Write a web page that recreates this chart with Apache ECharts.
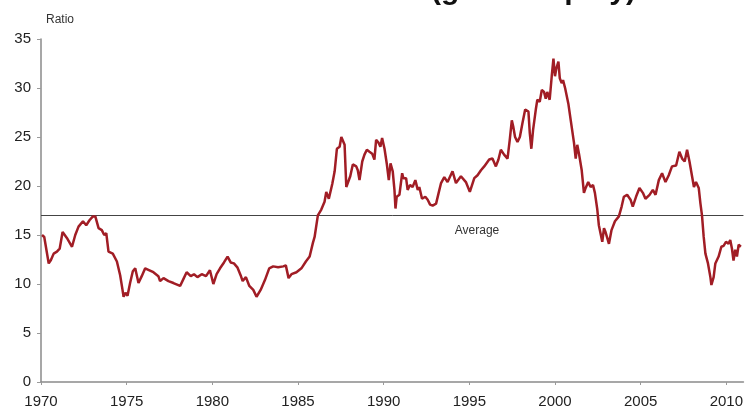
<!DOCTYPE html>
<html>
<head>
<meta charset="utf-8">
<script src="https://cdn.jsdelivr.net/npm/echarts@6/dist/echarts.min.js"></script>
<style>
  html, body { margin: 0; padding: 0; background: #fff; }
  #chart { width: 746px; height: 412px; }
</style>
</head>
<body>
<div id="chart"></div>
<script>
// Global equity valuation ratio, 1970–2010 (decimal years)
const years = [
  1970.06, 1970.19, 1970.45, 1970.58, 1970.74, 1970.93, 1971.09, 1971.26, 1971.51, 1971.81,
  1972.00, 1972.19, 1972.45, 1972.64, 1972.83, 1973.03, 1973.17, 1973.36, 1973.55, 1973.69,
  1973.81, 1973.94, 1974.19, 1974.43, 1974.62, 1974.74, 1974.82, 1974.93, 1975.05, 1975.20,
  1975.36, 1975.50, 1975.69, 1975.88, 1976.08, 1976.33, 1976.56, 1976.85, 1976.95, 1977.15,
  1977.44, 1977.73, 1978.12, 1978.31, 1978.50, 1978.74, 1978.93, 1979.13, 1979.38, 1979.63,
  1979.86, 1980.06, 1980.25, 1980.45, 1980.68, 1980.89, 1981.07, 1981.26, 1981.46, 1981.65,
  1981.77, 1981.96, 1982.16, 1982.39, 1982.58, 1982.82, 1983.07, 1983.32, 1983.55, 1983.84,
  1984.14, 1984.29, 1984.45, 1984.62, 1984.91, 1985.20, 1985.46, 1985.68, 1985.87, 1985.97,
  1986.16, 1986.36, 1986.55, 1986.65, 1986.80, 1987.00, 1987.14, 1987.27, 1987.43, 1987.53,
  1987.62, 1987.72, 1987.82, 1987.91, 1988.05, 1988.20, 1988.40, 1988.49, 1988.59, 1988.75,
  1988.88, 1989.02, 1989.17, 1989.33, 1989.46, 1989.56, 1989.71, 1989.81, 1989.91, 1990.05,
  1990.18, 1990.30, 1990.40, 1990.53, 1990.63, 1990.69, 1990.76, 1990.92, 1991.08, 1991.15,
  1991.31, 1991.40, 1991.54, 1991.69, 1991.85, 1991.99, 1992.08, 1992.24, 1992.43, 1992.57,
  1992.71, 1992.86, 1993.06, 1993.21, 1993.35, 1993.54, 1993.73, 1994.02, 1994.22, 1994.51,
  1994.80, 1995.03, 1995.29, 1995.48, 1995.68, 1995.87, 1996.16, 1996.35, 1996.55, 1996.70,
  1996.84, 1997.03, 1997.23, 1997.36, 1997.48, 1997.56, 1997.67, 1997.81, 1997.95, 1998.10,
  1998.26, 1998.45, 1998.53, 1998.62, 1998.72, 1998.88, 1998.97, 1999.11, 1999.23, 1999.36,
  1999.46, 1999.55, 1999.69, 1999.81, 1999.91, 2000.00, 2000.08, 2000.20, 2000.28, 2000.39,
  2000.47, 2000.59, 2000.66, 2000.78, 2000.92, 2001.01, 2001.11, 2001.21, 2001.30, 2001.40,
  2001.56, 2001.69, 2001.79, 2001.94, 2002.08, 2002.22, 2002.33, 2002.47, 2002.56, 2002.66,
  2002.76, 2002.86, 2002.95, 2003.05, 2003.15, 2003.30, 2003.50, 2003.73, 2003.89, 2004.02,
  2004.21, 2004.41, 2004.54, 2004.73, 2004.93, 2005.13, 2005.28, 2005.52, 2005.71, 2005.87,
  2006.06, 2006.25, 2006.45, 2006.64, 2006.83, 2007.07, 2007.26, 2007.42, 2007.57, 2007.71,
  2007.85, 2008.00, 2008.11, 2008.23, 2008.39, 2008.49, 2008.58, 2008.68, 2008.78, 2008.93,
  2009.07, 2009.13, 2009.26, 2009.36, 2009.55, 2009.71, 2009.84, 2009.98, 2010.13, 2010.23,
  2010.33, 2010.42, 2010.52, 2010.62, 2010.72, 2010.85
];

const ratios = [
  15.0, 14.8, 12.1, 12.45, 13.1, 13.3, 13.6, 15.3, 14.7, 13.8,
  15.0, 15.85, 16.4, 16.0, 16.5, 16.9, 16.9, 15.7, 15.5, 15.0,
  15.2, 13.3, 13.1, 12.3, 10.9, 9.6, 8.7, 9.1, 8.8, 10.1,
  11.3, 11.6, 10.1, 10.8, 11.6, 11.4, 11.2, 10.8, 10.3, 10.6,
  10.3, 10.1, 9.8, 10.5, 11.2, 10.8, 11.0, 10.7, 11.0, 10.8,
  11.4, 10.0, 11.0, 11.6, 12.2, 12.8, 12.2, 12.1, 11.7, 10.9,
  10.3, 10.7, 9.8, 9.4, 8.7, 9.4, 10.4, 11.6, 11.8, 11.7,
  11.8, 11.9, 10.6, 11.0, 11.2, 11.6, 12.3, 12.8, 14.2, 14.8,
  17.0, 17.6, 18.4, 19.4, 18.7, 20.2, 21.5, 23.8, 24.0, 25.0,
  25.2, 24.2, 19.9, 19.8, 21.0, 22.2, 22.0, 21.6, 20.6, 22.5,
  23.2, 23.7, 23.5, 23.3, 22.7, 24.7, 24.4, 24.0, 24.9, 23.8,
  22.3, 20.6, 22.3, 21.5, 19.6, 17.7, 18.9, 19.1, 21.3, 20.8,
  20.8, 19.6, 20.1, 19.9, 20.6, 19.6, 19.9, 18.7, 18.9, 18.6,
  18.1, 18.0, 18.2, 19.3, 20.3, 20.9, 20.4, 21.5, 20.3, 21.0,
  20.4, 19.4, 20.8, 21.1, 21.6, 22.0, 22.7, 22.8, 22.0, 22.7,
  23.7, 23.2, 22.8, 24.7, 26.7, 26.1, 25.0, 24.5, 25.0, 26.4,
  27.8, 27.6, 25.4, 23.8, 25.7, 27.8, 28.8, 28.6, 29.8, 29.6,
  28.9, 29.6, 28.8, 31.2, 33.0, 31.2, 32.0, 32.7, 31.0, 30.5,
  30.8, 30.0, 30.2, 28.4, 26.7, 26.9, 24.4, 22.8, 24.2, 23.3,
  21.6, 19.3, 19.8, 20.4, 19.9, 20.1, 19.3, 17.6, 16.0, 16.2,
  14.3, 15.7, 15.3, 14.7, 14.1, 15.5, 16.4, 16.9, 17.9, 18.9,
  19.1, 18.6, 17.9, 18.9, 19.8, 19.3, 18.7, 19.1, 19.6, 19.1,
  20.6, 21.3, 20.4, 21.1, 22.0, 22.1, 23.5, 22.8, 22.5, 23.7,
  22.5, 21.0, 19.9, 20.4, 19.8, 18.2, 17.0, 14.8, 13.1, 12.1,
  10.7, 9.9, 10.7, 12.1, 12.8, 13.8, 13.9, 14.3, 14.1, 14.5,
  13.6, 12.4, 13.5, 12.8, 14.0, 13.8
];

// Long-run average of the ratio
const averageRatio = 17.0;
const averageLabelYear = 1995.45;

// Axis ticks
const xTicks = [1970, 1975, 1980, 1985, 1990, 1995, 2000, 2005, 2010];
const yTicks = [0, 5, 10, 15, 20, 25, 30, 35];

const chartTitle = 'Market P/E ratio (global equity)';
const yAxisName = 'Ratio';

const FONT = '"Liberation Sans", Arial, Helvetica, sans-serif';
const seriesData = years.map((y, i) => [y, ratios[i]]);

const chart = echarts.init(document.getElementById('chart'), null, { renderer: 'canvas' });

chart.setOption({
  animation: false,
  backgroundColor: '#ffffff',
  textStyle: { fontFamily: FONT },
  graphic: [{
    type: 'text',
    right: 110,
    top: -24,
    style: {
      text: chartTitle,
      font: 'bold 30px ' + FONT,
      fill: '#111'
    }
  }],
  grid: { left: 41, right: 1, top: 39, bottom: 30, containLabel: false },
  xAxis: {
    type: 'value',
    min: xTicks[0],
    max: 2011,
    interval: 5,
    splitLine: { show: false },
    axisLine: { lineStyle: { color: '#8a8a8a', width: 1.5 } },
    axisTick: { show: true, length: 3, customValues: xTicks, lineStyle: { color: '#9a9a9a' } },
    axisLabel: {
      customValues: xTicks,
      formatter: (v) => String(v),
      color: '#222',
      fontSize: 15,
      margin: 12,
      fontFamily: FONT
    }
  },
  yAxis: {
    type: 'value',
    min: yTicks[0],
    max: yTicks[yTicks.length - 1],
    interval: 5,
    name: yAxisName,
    nameLocation: 'end',
    nameGap: 19,
    nameTextStyle: {
      color: '#333',
      fontSize: 12,
      align: 'left',
      verticalAlign: 'middle',
      padding: [0, 0, 0, 5],
      fontFamily: FONT
    },
    splitLine: { show: false },
    axisLine: { show: true, lineStyle: { color: '#8a8a8a', width: 1.5 } },
    axisTick: { show: true, length: 4, lineStyle: { color: '#9a9a9a' } },
    axisLabel: { color: '#222', fontSize: 15, margin: 10, fontFamily: FONT }
  },
  series: [{
    type: 'line',
    data: seriesData,
    showSymbol: false,
    symbol: 'none',
    smooth: false,
    lineStyle: { color: '#a11d25', width: 2.5 },
    z: 3,
    markLine: {
      silent: true,
      symbol: 'none',
      label: { show: false },
      lineStyle: { color: '#444', width: 1, type: 'solid' },
      data: [{ yAxis: averageRatio }],
      z: 2
    },
    markPoint: {
      silent: true,
      symbol: 'circle',
      symbolSize: 0,
      label: {
        show: true,
        formatter: 'Average',
        color: '#333',
        fontSize: 12,
        fontFamily: FONT,
        offset: [0, 15]
      },
      data: [{ coord: [averageLabelYear, averageRatio] }]
    }
  }]
});
</script>
</body>
</html>
